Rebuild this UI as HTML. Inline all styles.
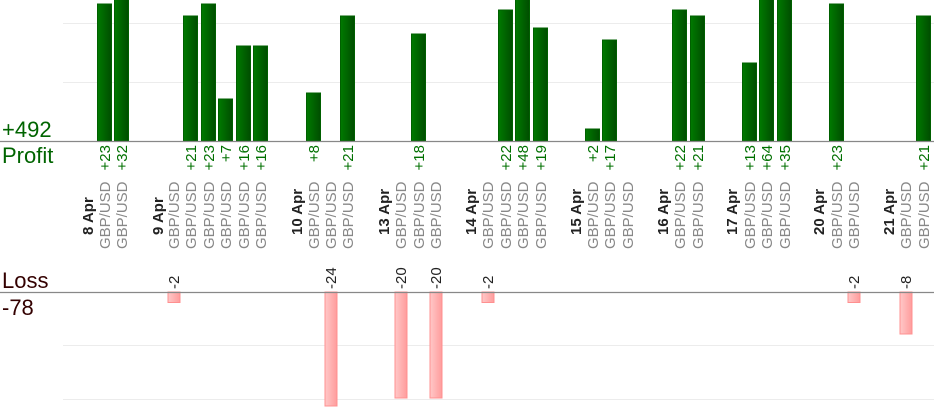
<!DOCTYPE html>
<html><head><meta charset="utf-8"><style>
html,body{margin:0;padding:0;background:#fff;}
svg{display:block;font-family:"Liberation Sans",sans-serif;}
</style></head><body>
<svg width="934" height="420" viewBox="0 0 934 420" xmlns="http://www.w3.org/2000/svg">
<defs>
<linearGradient id="g" x1="0" x2="1" y1="0" y2="0"><stop offset="0" stop-color="#007a00"/><stop offset="1" stop-color="#004d00"/></linearGradient>
<linearGradient id="r" x1="0" x2="1" y1="0" y2="0"><stop offset="0" stop-color="#ffc8c8"/><stop offset="1" stop-color="#ff9c9c"/></linearGradient>
</defs>
<g stroke="#ececec" stroke-width="1">
<line x1="63" x2="934" y1="23.5" y2="23.5"/><line x1="63" x2="934" y1="82.5" y2="82.5"/>
<line x1="63" x2="934" y1="345.5" y2="345.5"/><line x1="63" x2="934" y1="399.5" y2="399.5"/>
</g>
<g fill="url(#g)" stroke="#006000" stroke-width="1">
<rect x="97.5" y="4" width="14" height="137"/>
<rect x="114.5" y="-1" width="14" height="142"/>
<rect x="183.5" y="16" width="14" height="125"/>
<rect x="201.5" y="4" width="14" height="137"/>
<rect x="218.5" y="99" width="14" height="42"/>
<rect x="236.5" y="46" width="14" height="95"/>
<rect x="253.5" y="46" width="14" height="95"/>
<rect x="306.5" y="93" width="14" height="48"/>
<rect x="340.5" y="16" width="14" height="125"/>
<rect x="411.5" y="34" width="14" height="107"/>
<rect x="498.5" y="10" width="14" height="131"/>
<rect x="515.5" y="-1" width="14" height="142"/>
<rect x="533.5" y="28" width="14" height="113"/>
<rect x="585.5" y="129" width="14" height="12"/>
<rect x="602.5" y="40" width="14" height="101"/>
<rect x="672.5" y="10" width="14" height="131"/>
<rect x="690.5" y="16" width="14" height="125"/>
<rect x="742.5" y="63" width="14" height="78"/>
<rect x="759.5" y="-1" width="14" height="142"/>
<rect x="777.5" y="-1" width="14" height="142"/>
<rect x="829.5" y="4" width="14" height="137"/>
<rect x="916.5" y="16" width="14" height="125"/>
</g>
<g fill="url(#r)" stroke="#ff9090" stroke-width="1">
<rect x="168" y="292" width="12" height="10.5"/>
<rect x="325" y="292" width="12" height="114"/>
<rect x="395" y="292" width="12" height="106"/>
<rect x="430" y="292" width="12" height="106"/>
<rect x="482" y="292" width="12" height="10.5"/>
<rect x="848" y="292" width="12" height="10.5"/>
<rect x="900" y="292" width="12" height="42"/>
</g>
<line x1="0" x2="934" y1="141.5" y2="141.5" stroke="#888" stroke-width="1.3"/>
<line x1="0" x2="934" y1="292.5" y2="292.5" stroke="#888" stroke-width="1.3"/>
<text x="2" y="137" font-size="22" fill="#006400">+492</text>
<text x="2" y="163" font-size="22" fill="#006400">Profit</text>
<text x="2" y="288" font-size="22" fill="#330000">Loss</text>
<text x="2" y="315" font-size="22" fill="#330000">-78</text>
<g font-size="15" fill="#007000" text-anchor="end">
<text transform="translate(110,145) rotate(-90)">+23</text>
<text transform="translate(127,145) rotate(-90)">+32</text>
<text transform="translate(196,145) rotate(-90)">+21</text>
<text transform="translate(214,145) rotate(-90)">+23</text>
<text transform="translate(231,145) rotate(-90)">+7</text>
<text transform="translate(249,145) rotate(-90)">+16</text>
<text transform="translate(266,145) rotate(-90)">+16</text>
<text transform="translate(319,145) rotate(-90)">+8</text>
<text transform="translate(353,145) rotate(-90)">+21</text>
<text transform="translate(424,145) rotate(-90)">+18</text>
<text transform="translate(511,145) rotate(-90)">+22</text>
<text transform="translate(528,145) rotate(-90)">+48</text>
<text transform="translate(546,145) rotate(-90)">+19</text>
<text transform="translate(598,145) rotate(-90)">+2</text>
<text transform="translate(615,145) rotate(-90)">+17</text>
<text transform="translate(685,145) rotate(-90)">+22</text>
<text transform="translate(703,145) rotate(-90)">+21</text>
<text transform="translate(755,145) rotate(-90)">+13</text>
<text transform="translate(772,145) rotate(-90)">+64</text>
<text transform="translate(790,145) rotate(-90)">+35</text>
<text transform="translate(842,145) rotate(-90)">+23</text>
<text transform="translate(929,145) rotate(-90)">+21</text>
</g>
<g font-size="15" fill="#222" text-anchor="start">
<text transform="translate(179,289) rotate(-90)">-2</text>
<text transform="translate(336,289) rotate(-90)">-24</text>
<text transform="translate(406,289) rotate(-90)">-20</text>
<text transform="translate(441,289) rotate(-90)">-20</text>
<text transform="translate(493,289) rotate(-90)">-2</text>
<text transform="translate(859,289) rotate(-90)">-2</text>
<text transform="translate(911,289) rotate(-90)">-8</text>
</g>
<g font-size="15" fill="#222" font-weight="bold">
<text transform="translate(93,235) rotate(-90)">8 Apr</text>
<text transform="translate(163,235) rotate(-90)">9 Apr</text>
<text transform="translate(302,235) rotate(-90)">10 Apr</text>
<text transform="translate(389,235) rotate(-90)">13 Apr</text>
<text transform="translate(476,235) rotate(-90)">14 Apr</text>
<text transform="translate(581,235) rotate(-90)">15 Apr</text>
<text transform="translate(668,235) rotate(-90)">16 Apr</text>
<text transform="translate(737,235) rotate(-90)">17 Apr</text>
<text transform="translate(824,235) rotate(-90)">20 Apr</text>
<text transform="translate(894,235) rotate(-90)">21 Apr</text>
</g>
<g font-size="15" fill="#888">
<text transform="translate(110,249) rotate(-90)">GBP/USD</text>
<text transform="translate(127,249) rotate(-90)">GBP/USD</text>
<text transform="translate(179,249) rotate(-90)">GBP/USD</text>
<text transform="translate(196,249) rotate(-90)">GBP/USD</text>
<text transform="translate(214,249) rotate(-90)">GBP/USD</text>
<text transform="translate(231,249) rotate(-90)">GBP/USD</text>
<text transform="translate(249,249) rotate(-90)">GBP/USD</text>
<text transform="translate(266,249) rotate(-90)">GBP/USD</text>
<text transform="translate(319,249) rotate(-90)">GBP/USD</text>
<text transform="translate(336,249) rotate(-90)">GBP/USD</text>
<text transform="translate(353,249) rotate(-90)">GBP/USD</text>
<text transform="translate(406,249) rotate(-90)">GBP/USD</text>
<text transform="translate(424,249) rotate(-90)">GBP/USD</text>
<text transform="translate(441,249) rotate(-90)">GBP/USD</text>
<text transform="translate(493,249) rotate(-90)">GBP/USD</text>
<text transform="translate(511,249) rotate(-90)">GBP/USD</text>
<text transform="translate(528,249) rotate(-90)">GBP/USD</text>
<text transform="translate(546,249) rotate(-90)">GBP/USD</text>
<text transform="translate(598,249) rotate(-90)">GBP/USD</text>
<text transform="translate(615,249) rotate(-90)">GBP/USD</text>
<text transform="translate(633,249) rotate(-90)">GBP/USD</text>
<text transform="translate(685,249) rotate(-90)">GBP/USD</text>
<text transform="translate(703,249) rotate(-90)">GBP/USD</text>
<text transform="translate(755,249) rotate(-90)">GBP/USD</text>
<text transform="translate(772,249) rotate(-90)">GBP/USD</text>
<text transform="translate(790,249) rotate(-90)">GBP/USD</text>
<text transform="translate(842,249) rotate(-90)">GBP/USD</text>
<text transform="translate(859,249) rotate(-90)">GBP/USD</text>
<text transform="translate(911,249) rotate(-90)">GBP/USD</text>
<text transform="translate(929,249) rotate(-90)">GBP/USD</text>
</g>
</svg>
</body></html>
